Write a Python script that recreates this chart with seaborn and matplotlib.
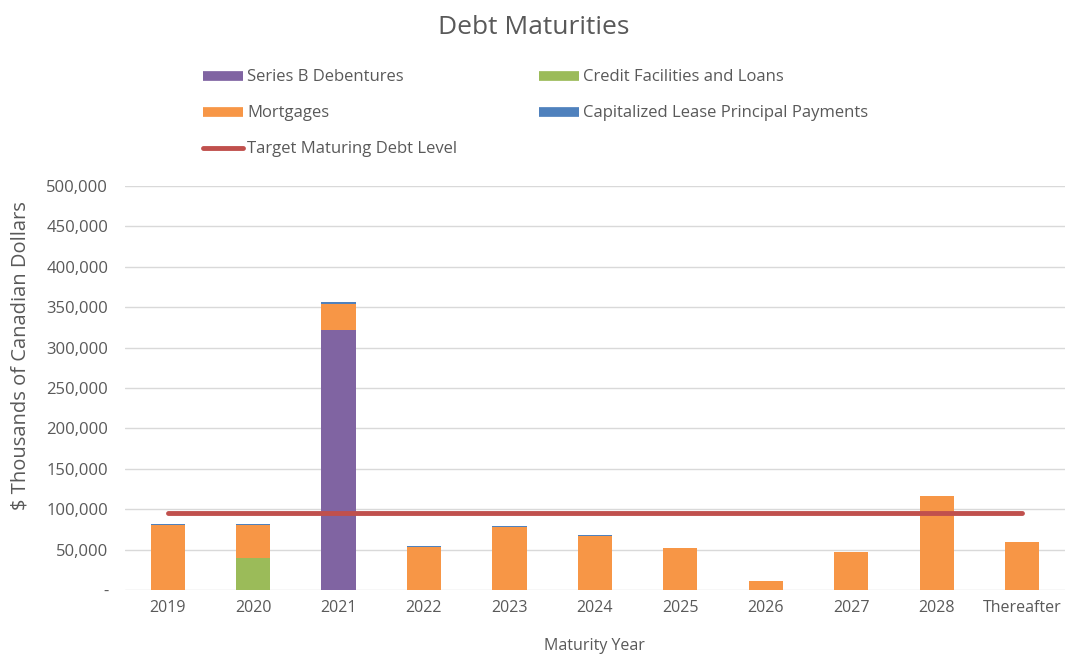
import numpy as np
import pandas as pd
import seaborn as sns
import matplotlib.pyplot as plt
from matplotlib.lines import Line2D
from matplotlib.ticker import FuncFormatter

# Data (thousands of CAD)
years = ['2019', '2020', '2021', '2022', '2023', '2024', '2025', '2026', '2027', '2028', 'Thereafter']
series_b = [0, 0, 321500, 0, 0, 0, 0, 0, 0, 0, 0]
credit = [0, 39500, 0, 0, 0, 0, 0, 0, 0, 0, 0]
mortgages = [80000, 41000, 33000, 53000, 78000, 67000, 52500, 11000, 47000, 116000, 60000]
lease = [1500, 1500, 1500, 1500, 1500, 1000, 0, 0, 0, 0, 0]
target = [95000] * len(years)

df = pd.DataFrame({'year': years, 'series_b': series_b, 'credit': credit,
                   'mortgages': mortgages, 'lease': lease, 'target': target})

purple = '#8064A2'
green = '#9BBB59'
orange = '#F79646'
blue = '#4F81BD'
red = '#C0504D'
grey_text = '#595959'

sns.set_theme(style='white')
plt.rcParams['font.family'] = ['Open Sans', 'DejaVu Sans']

fig = plt.figure(figsize=(10.68, 6.56), dpi=100)
ax = fig.add_axes([0.117, 0.1006, 0.88, 0.6159])

# Stacked bars
bottom = np.zeros(len(years))
for col, color in [('series_b', purple), ('credit', green), ('mortgages', orange), ('lease', blue)]:
    sns.barplot(data=df, x='year', y=col, color=color, width=0.4, bottom=bottom,
                saturation=1, ax=ax, linewidth=0)
    bottom = bottom + df[col].values

# Target line
sns.lineplot(x=np.arange(len(years)), y=df['target'], color=red, linewidth=3.5, ax=ax, zorder=5)

ax.set_xlim(-0.5, len(years) - 0.5)
ax.set_ylim(0, 500000)
ax.set_yticks(np.arange(0, 500001, 50000))
ax.yaxis.set_major_formatter(FuncFormatter(lambda v, p: '-' if v == 0 else f'{int(v):,}'))
ax.grid(axis='y', color='#D9D9D9', linewidth=1)
ax.set_axisbelow(True)
for s in ax.spines.values():
    s.set_visible(False)
ax.tick_params(axis='both', length=0, colors=grey_text)
ax.tick_params(axis='y', labelsize=12, pad=12)
ax.tick_params(axis='x', labelsize=11.5, pad=7)

ax.set_xlabel('Maturity Year', fontsize=11.5, color=grey_text, labelpad=16)
ax.set_ylabel('\\$ Thousands of Canadian Dollars', fontsize=14.5, color=grey_text)
ax.yaxis.set_label_coords(-0.100, 0.58)

fig.suptitle('Debt Maturities', fontsize=19, color=grey_text, y=0.977)

handles = [
    Line2D([], [], color=purple, lw=7, solid_capstyle='butt'),
    Line2D([], [], color=orange, lw=7, solid_capstyle='butt'),
    Line2D([], [], color=red, lw=3.5),
    Line2D([], [], color=green, lw=7, solid_capstyle='butt'),
    Line2D([], [], color=blue, lw=7, solid_capstyle='butt'),
]
labels = ['Series B Debentures', 'Mortgages', 'Target Maturing Debt Level',
          'Credit Facilities and Loans', 'Capitalized Lease Principal Payments']
leg = fig.legend(handles, labels, ncol=2, loc='upper left', bbox_to_anchor=(0.176, 0.917),
                 frameon=False, fontsize=12, handlelength=2.4, handletextpad=0.25,
                 labelspacing=1.2, columnspacing=4.9)
for t in leg.get_texts():
    t.set_color(grey_text)

fig.savefig('out.png', dpi=100)
